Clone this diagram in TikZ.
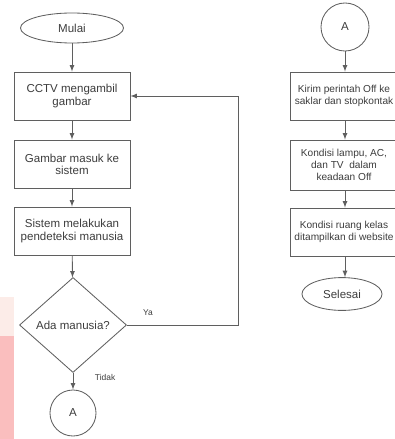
\documentclass[tikz,border=0pt]{standalone}
\usepackage{fontspec}
\setmainfont{Liberation Sans}
\usepackage{xcolor}
\usepackage{tikz}
\usetikzlibrary{shapes,arrows}

\definecolor{garis}{RGB}{95,95,95}
\definecolor{teks}{RGB}{60,60,60}
\definecolor{pinkmuda}{RGB}{252,236,232}
\definecolor{pinktua}{RGB}{250,190,190}

\tikzset{
  proses/.style={draw=garis, rectangle, line width=0.6pt, minimum width=2.9cm, minimum height=1.2cm, align=center, text=teks, font=\fontsize{8.2}{8.6}\selectfont},
  proseskanan/.style={proses, minimum width=2.7cm, inner xsep=1pt, font=\fontsize{7.2}{8.6}\selectfont},
  terminal/.style={draw=garis, ellipse, line width=0.6pt, inner sep=0pt, text=teks, font=\fontsize{8.2}{8.6}\selectfont},
  keputusan/.style={draw=garis, diamond, line width=0.6pt, inner sep=0pt, minimum width=2.675cm, minimum height=2.375cm, text=teks, font=\fontsize{8.2}{8.6}\selectfont},
  konektor/.style={draw=garis, circle, line width=0.6pt, inner sep=0pt, text=teks, font=\fontsize{8.2}{8.6}\selectfont},
  panah/.style={draw=garis, line width=0.6pt, -latex},
  ket/.style={text=teks, font=\fontsize{6}{7}\selectfont}
}

\begin{document}
\begin{tikzpicture}[x=0.025cm, y=-0.025cm]
\useasboundingbox (0,0) rectangle (394,439);

\fill[pinkmuda] (0,297) rectangle (14,336);
\fill[pinktua] (0,336) rectangle (14,439);

\node[terminal, minimum width=2.575cm, minimum height=0.75cm] (mulai) at (72,28) {Mulai};
\node[proses] (ambil) at (72,96) {CCTV mengambil\\gambar};
\node[proses] (masuk) at (72,164) {Gambar masuk ke\\sistem};
\node[proses] (deteksi) at (72,231) {Sistem melakukan\\pendeteksi manusia};
\node[keputusan] (cek) at (73,325) {Ada manusia?};
\node[konektor, minimum size=1.15cm] (akiri) at (73,413) {A};

\node[konektor, minimum size=1.2cm] (akanan) at (345,27) {A};
\node[proseskanan] (kirim) at (344,96) {Kirim perintah Off ke\\saklar dan stopkontak};
\node[proseskanan, minimum height=1.25cm] (kondisi) at (344,165) {Kondisi lampu, AC,\\dan TV\ \ dalam\\keadaan Off};
\node[proseskanan] (tampil) at (344,232) {Kondisi ruang kelas\\ditampilkan di website};
\node[terminal, minimum width=2cm, minimum height=0.82cm] (selesai) at (342,294) {Selesai};

\coordinate (balik) at (238,325);

\draw[panah] (mulai) -- (ambil);
\draw[panah] (ambil) -- (masuk);
\draw[panah] (masuk) -- (deteksi);
\draw[panah] (deteksi) -- (cek);
\draw[panah] (cek) -- node[ket, pos=0.3, right=12pt] {Tidak} (akiri);
\draw[panah] (cek.east) -- node[ket, pos=0.19, above=3pt] {Ya} (balik) |- (ambil.east);

\draw[panah] (akanan) -- (akanan |- kirim.north);
\draw[panah] (akanan |- kirim.south) -- (akanan |- kondisi.north);
\draw[panah] (akanan |- kondisi.south) -- (akanan |- tampil.north);
\draw[panah] (akanan |- tampil.south) -- (akanan |- selesai.north);
\end{tikzpicture}
\end{document}
